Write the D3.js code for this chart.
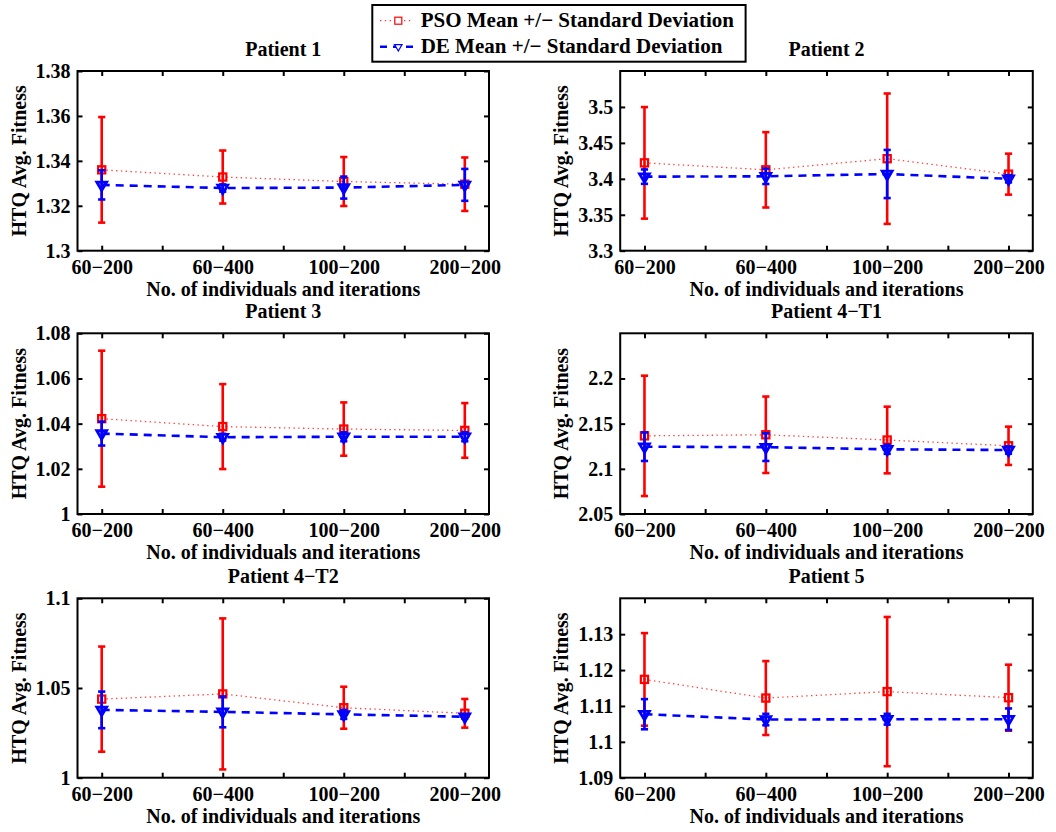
<!DOCTYPE html>
<html>
<head>
<meta charset="utf-8">
<script src="https://cdn.jsdelivr.net/npm/d3@7"></script>
<style>
  html, body { margin: 0; padding: 0; background: #fff; }
  svg { display: block; }
  text { font-family: "Liberation Serif", "Times New Roman", serif; font-weight: bold; fill: #000; }
</style>
</head>
<body>
<script>
// ---------------- DATA ----------------
const categories = ["60\u2212200", "60\u2212400", "100\u2212200", "200\u2212200"];
const panelTitles = ["Patient 1", "Patient 2", "Patient 3", "Patient 4\u2212T1", "Patient 4\u2212T2", "Patient 5"];
const seriesNames = ["PSO Mean +/\u2212 Standard Deviation", "DE Mean +/\u2212 Standard Deviation"];
const xLabel = "No. of individuals and iterations";
const yLabel = "HTQ Avg. Fitness";

const yDomains = [[1.3, 1.38], [3.3, 3.55], [1, 1.08], [2.05, 2.25], [1, 1.1], [1.09, 1.14]];
const yTickValues = [
  [1.3, 1.32, 1.34, 1.36, 1.38],
  [3.3, 3.35, 3.4, 3.45, 3.5],
  [1, 1.02, 1.04, 1.06, 1.08],
  [2.05, 2.1, 2.15, 2.2],
  [1, 1.05, 1.1],
  [1.09, 1.1, 1.11, 1.12, 1.13]
];
const yTickLabels = [
  ["1.3", "1.32", "1.34", "1.36", "1.38"],
  ["3.3", "3.35", "3.4", "3.45", "3.5"],
  ["1", "1.02", "1.04", "1.06", "1.08"],
  ["2.05", "2.1", "2.15", "2.2"],
  ["1", "1.05", "1.1"],
  ["1.09", "1.1", "1.11", "1.12", "1.13"]
];

const psoMean = [
  [1.3360, 1.3328, 1.3308, 1.3296],
  [3.4222, 3.4125, 3.4280, 3.4065],
  [1.0422, 1.0387, 1.0376, 1.0370],
  [2.1365, 2.1377, 2.1319, 2.1255],
  [1.0438, 1.0467, 1.0390, 1.0359],
  [1.1174, 1.1122, 1.1140, 1.1123]
];
const psoStd = [
  [0.0235, 0.0118, 0.0109, 0.0119],
  [0.0776, 0.0524, 0.0907, 0.0285],
  [0.0301, 0.0188, 0.0118, 0.0121],
  [0.0666, 0.0423, 0.0369, 0.0212],
  [0.0293, 0.0421, 0.0117, 0.0080],
  [0.0129, 0.0103, 0.0208, 0.0092]
];
const deMean = [
  [1.3293, 1.3279, 1.3281, 1.3293],
  [3.4030, 3.4035, 3.4067, 3.4000],
  [1.0356, 1.0340, 1.0342, 1.0342],
  [2.1245, 2.1240, 2.1216, 2.1208],
  [1.0378, 1.0367, 1.0353, 1.0340],
  [1.1077, 1.1062, 1.1063, 1.1063]
];
const deStd = [
  [0.0065, 0.0016, 0.0049, 0.0071],
  [0.0100, 0.0107, 0.0335, 0.0050],
  [0.0053, 0.0015, 0.0020, 0.0020],
  [0.0158, 0.0153, 0.0050, 0.0040],
  [0.0102, 0.0086, 0.0025, 0.0010],
  [0.0042, 0.0016, 0.0015, 0.0030]
];

// ---------------- LAYOUT ----------------
const W = 1056, H = 832;
const FS = 20;      // axis / title text
const FSL = 21;     // legend text
const cols = [{ l: 77.5, r: 489 }, { l: 620.2, r: 1032.8 }];
const rows = [{ t: 71, b: 250.7 }, { t: 333.3, b: 514 }, { t: 598.3, b: 777.7 }];
const xTickValues = [1, 1.5, 2, 2.5, 3, 3.5, 4];

const svg = d3.select("body").append("svg").attr("width", W).attr("height", H);
svg.append("rect").attr("width", W).attr("height", H).attr("fill", "#fff");

const RED = "#ff0000", BLUE = "#0000ff";

function drawPanel(p) {
  const c = cols[p % 2], r = rows[Math.floor(p / 2)];
  const x = d3.scaleLinear().domain([0.8, 4.2]).range([c.l, c.r]);
  const y = d3.scaleLinear().domain(yDomains[p]).range([r.b, r.t]);
  const g = svg.append("g");

  const tickStyle = sel => {
    sel.select(".domain").remove();
    sel.attr("font-family", null).attr("font-size", null);
    sel.selectAll(".tick line").attr("stroke", "#000").attr("stroke-width", 2);
    sel.selectAll("text").style("font-size", FS + "px");
  };
  const xb = g.append("g").attr("transform", `translate(0,${r.b})`)
    .call(d3.axisBottom(x).tickValues(xTickValues).tickSizeInner(-5).tickSizeOuter(0)
      .tickFormat(d => Number.isInteger(d) ? categories[d - 1] : ""));
  tickStyle(xb);
  xb.selectAll("text").attr("y", 23).attr("dy", null);

  const xt = g.append("g").attr("transform", `translate(0,${r.t})`)
    .call(d3.axisTop(x).tickValues(xTickValues).tickSizeInner(-5).tickSizeOuter(0).tickFormat(""));
  tickStyle(xt);

  const yl = g.append("g").attr("transform", `translate(${c.l},0)`)
    .call(d3.axisLeft(y).tickValues(yTickValues[p]).tickSizeInner(-5).tickSizeOuter(0).tickPadding(7)
      .tickFormat((d, i) => yTickLabels[p][i]));
  tickStyle(yl);

  const yr = g.append("g").attr("transform", `translate(${c.r},0)`)
    .call(d3.axisRight(y).tickValues(yTickValues[p]).tickSizeInner(-5).tickSizeOuter(0).tickFormat(""));
  tickStyle(yr);

  g.append("rect").attr("x", c.l).attr("y", r.t).attr("width", c.r - c.l).attr("height", r.b - r.t)
    .attr("fill", "none").attr("stroke", "#000").attr("stroke-width", 2);

  g.append("text").attr("x", (c.l + c.r) / 2).attr("y", r.t - 15.3).attr("text-anchor", "middle")
    .style("font-size", FS + "px").text(panelTitles[p]);
  g.append("text").attr("x", (c.l + c.r) / 2).attr("y", r.b + 45.3).attr("text-anchor", "middle")
    .style("font-size", FS + "px").text(xLabel);
  g.append("text").attr("transform", `translate(${c.l - 52},${(r.t + r.b) / 2}) rotate(-90)`)
    .attr("text-anchor", "middle").style("font-size", FS + "px").text(yLabel);

  const series = [
    { mean: psoMean[p], std: psoStd[p], color: RED, dash: "1.4,3.4", lw: 1.3, marker: "square" },
    { mean: deMean[p], std: deStd[p], color: BLUE, dash: "8,6", lw: 2.6, marker: "tri" }
  ];
  const line = d3.line().x((d, i) => x(i + 1)).y(d => y(d));
  series.forEach(s => {
    g.append("path").datum(s.mean).attr("d", line).attr("fill", "none")
      .attr("stroke", s.color).attr("stroke-width", s.lw).attr("stroke-dasharray", s.dash)
      .attr("opacity", s.marker === "square" ? 0.75 : 1);
    const eb = g.append("g").attr("stroke", s.color).attr("stroke-width", 2.6).attr("fill", "none");
    s.mean.forEach((m, i) => {
      const xi = x(i + 1), y1 = y(m + s.std[i]), y0 = y(m - s.std[i]);
      eb.append("line").attr("x1", xi).attr("x2", xi).attr("y1", y1).attr("y2", y0);
      eb.append("line").attr("x1", xi - 3.6).attr("x2", xi + 3.6).attr("y1", y1).attr("y2", y1);
      eb.append("line").attr("x1", xi - 3.6).attr("x2", xi + 3.6).attr("y1", y0).attr("y2", y0);
    });
    const mk = g.append("g").attr("fill", "none").attr("stroke", s.color);
    s.mean.forEach((m, i) => {
      if (s.marker === "square") {
        mk.append("rect").attr("x", x(i + 1) - 3.6).attr("y", y(m) - 3.6).attr("width", 7.2).attr("height", 7.2)
          .attr("stroke-width", 2.2);
      } else {
        mk.append("path").attr("d", d3.symbol(d3.symbolTriangle, 42)())
          .attr("transform", `translate(${x(i + 1)},${y(m)}) rotate(180)`).attr("stroke-width", 2.8);
      }
    });
  });
}

for (let p = 0; p < 6; p++) drawPanel(p);

// ---------------- LEGEND ----------------
const lg = svg.append("g");
lg.append("rect").attr("x", 372.3).attr("y", 5).attr("width", 373.3).attr("height", 56.7)
  .attr("fill", "#fff").attr("stroke", "#000").attr("stroke-width", 2);
const legendRows = [
  { y: 20.7, tb: 27.3, color: RED, dash: "1.4,3.4", lw: 1.3, marker: "square", op: 0.75 },
  { y: 46.7, tb: 53.3, color: BLUE, dash: "7,6", lw: 2.6, marker: "tri", op: 1 }
];
legendRows.forEach((lr, i) => {
  lg.append("line").attr("x1", 380).attr("x2", 413).attr("y1", lr.y).attr("y2", lr.y)
    .attr("stroke", lr.color).attr("stroke-width", lr.lw).attr("stroke-dasharray", lr.dash).attr("opacity", lr.op);
  if (lr.marker === "square") {
    lg.append("rect").attr("x", 398.3 - 3.5).attr("y", lr.y - 3.5).attr("width", 7).attr("height", 7)
      .attr("fill", "#fff").attr("stroke", lr.color).attr("stroke-width", 1.2);
  } else {
    lg.append("path").attr("d", d3.symbol(d3.symbolTriangle, 24)())
      .attr("transform", `translate(398.3,${lr.y}) rotate(180)`)
      .attr("fill", "#fff").attr("stroke", lr.color).attr("stroke-width", 1.2);
  }
  lg.append("text").attr("x", 420.7).attr("y", lr.tb).style("font-size", FSL + "px").text(seriesNames[i]);
});
</script>
</body>
</html>
